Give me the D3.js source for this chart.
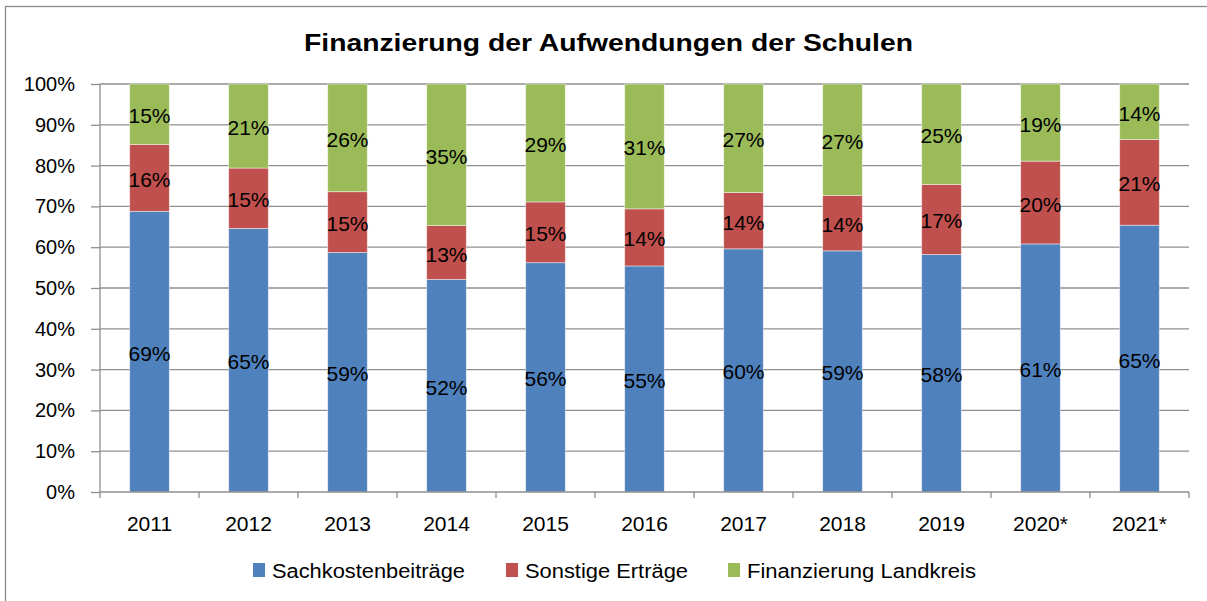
<!DOCTYPE html>
<html>
<head>
<meta charset="utf-8">
<script src="https://cdn.jsdelivr.net/npm/d3@7"></script>
<style>
  body { margin: 0; background: #fff; }
  svg { display: block; font-family: "Liberation Sans", Arial, sans-serif; }
  .grid line { stroke: #8f8f8f; stroke-width: 1.3; }
  .axis path, .axis line { stroke: #8f8f8f; stroke-width: 1.3; }
  .axis text { fill: #000; }
</style>
</head>
<body>
<svg id="chart" width="1207" height="601"></svg>
<script>
// chart data, percent of total per year
const years = ["2011", "2012", "2013", "2014", "2015", "2016", "2017", "2018", "2019", "2020*", "2021*"];
const sachkosten = [68.8, 64.6, 58.7, 52.1, 56.2, 55.4, 59.6, 59.1, 58.2, 60.8, 65.4];
const sonstige = [16.4, 14.8, 14.9, 13.2, 14.9, 14.0, 13.8, 13.6, 17.2, 20.3, 21.0];
const landkreis = [14.8, 20.6, 26.4, 34.7, 28.9, 30.6, 26.6, 27.3, 24.6, 18.9, 13.6];
const seriesNames = ["Sachkostenbeiträge", "Sonstige Erträge", "Finanzierung Landkreis"];
const seriesColors = ["#4f81bd", "#c0504d", "#9bbb59"];
const yTicks = [0, 10, 20, 30, 40, 50, 60, 70, 80, 90, 100];

const svg = d3.select("#chart");
const width = 1207;
const margin = { top: 84, right: 18, bottom: 109, left: 100 };
const plotW = width - margin.left - margin.right;
const plotH = 601 - margin.top - margin.bottom;

// outer frame
svg.append("rect")
  .attr("x", 5.5).attr("y", 6.5)
  .attr("width", 1210).attr("height", 610)
  .attr("fill", "none").attr("stroke", "#8c8c8c").attr("stroke-width", 1.3);

svg.append("text")
  .attr("x", 304).attr("y", 51)
  .attr("font-size", 24).attr("font-weight", "bold")
  .attr("textLength", 609).attr("lengthAdjust", "spacingAndGlyphs")
  .text("Finanzierung der Aufwendungen der Schulen");

const g = svg.append("g").attr("transform", `translate(${margin.left},${margin.top})`);

const x = d3.scaleBand().domain(years).range([0, plotW]).paddingInner(0.6).paddingOuter(0.3);
const xEdge = d3.scaleBand().domain(years).range([0, plotW]);
const y = d3.scaleLinear().domain([0, 100]).range([plotH, 0]);

// gridlines
g.append("g").attr("class", "grid")
  .selectAll("line").data(yTicks.filter(d => d > 0)).enter()
  .append("line")
  .attr("x1", 0).attr("x2", plotW)
  .attr("y1", d => y(d)).attr("y2", d => y(d));

const rows = years.map((yr, i) => ({ year: yr, s0: sachkosten[i], s1: sonstige[i], s2: landkreis[i] }));
const stack = d3.stack().keys(["s0", "s1", "s2"]);
const layers = stack(rows);

const layerG = g.selectAll(".layer").data(layers).enter()
  .append("g").attr("fill", (d, i) => seriesColors[i]);

layerG.selectAll("rect").data(d => d).enter()
  .append("rect")
  .attr("x", d => x(d.data.year))
  .attr("width", x.bandwidth())
  .attr("y", d => y(d[1]))
  .attr("height", d => y(d[0]) - y(d[1]))
  .attr("stroke", "rgba(255,255,255,0.55)").attr("stroke-width", 0.8);

const fmt = v => Math.round(v) + "%";
layerG.selectAll("text").data(d => d).enter()
  .append("text")
  .attr("x", d => x(d.data.year) + x.bandwidth() / 2)
  .attr("y", d => y((d[0] + d[1]) / 2) + 9)
  .attr("text-anchor", "middle")
  .attr("font-size", 21).attr("fill", "#000")
  .text(d => fmt(d[1] - d[0]));

// y axis
const yAxis = g.append("g").attr("class", "axis")
  .call(d3.axisLeft(y).tickValues(yTicks).tickSize(9).tickPadding(16).tickFormat(d => d + "%"));
yAxis.select(".domain").attr("d", `M0,${plotH}V0`);
yAxis.selectAll("text").attr("font-size", 20).attr("font-family", "Liberation Sans, Arial, sans-serif");

// x axis, ticks at category boundaries
const xAxis = g.append("g").attr("class", "axis").attr("transform", `translate(0,${plotH})`);
xAxis.append("line").attr("x1", 0).attr("x2", plotW).attr("y1", 0).attr("y2", 0);
xAxis.selectAll(".tick").data(years.concat(["end"])).enter()
  .append("line")
  .attr("x1", (d, i) => i < years.length ? xEdge(d) : plotW)
  .attr("x2", (d, i) => i < years.length ? xEdge(d) : plotW)
  .attr("y1", 0).attr("y2", 6);
xAxis.selectAll(".lbl").data(years).enter()
  .append("text")
  .attr("x", d => xEdge(d) + xEdge.bandwidth() / 2)
  .attr("y", 39)
  .attr("text-anchor", "middle")
  .attr("font-size", 21)
  .text(d => d);

// legend
const legendX = [253, 506, 728];
const legendW = [193, 163, 229];
const legend = svg.append("g");
seriesNames.forEach((name, i) => {
  legend.append("rect")
    .attr("x", legendX[i]).attr("y", 563)
    .attr("width", 12).attr("height", 14)
    .attr("fill", seriesColors[i]);
  legend.append("text")
    .attr("x", legendX[i] + 19).attr("y", 578)
    .attr("font-size", 20)
    .attr("textLength", legendW[i]).attr("lengthAdjust", "spacingAndGlyphs")
    .text(name);
});
</script>
</body>
</html>
